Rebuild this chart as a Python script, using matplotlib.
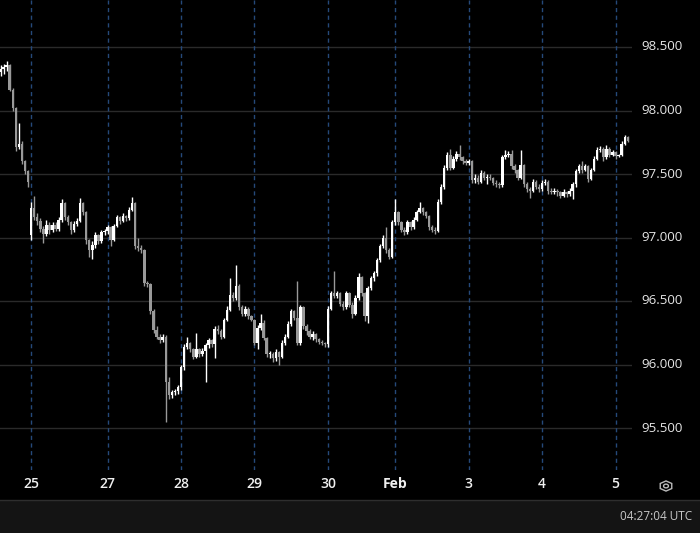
import matplotlib
matplotlib.use("Agg")
import matplotlib.pyplot as plt
from matplotlib.patches import Rectangle, RegularPolygon, Circle
from matplotlib.lines import Line2D

# hourly candles (closes / highs / lows), opens follow the previous close
closes = [
    98.33, 98.34, 98.36, 98.16, 98.02, 97.71, 97.74, 97.60, 97.52, 97.44,
    97.23, 97.16, 97.13, 97.07, 97.03, 97.10, 97.06, 97.10, 97.07, 97.14,
    97.27, 97.16, 97.12, 97.06, 97.11, 97.13, 97.27, 97.20, 96.98, 96.90,
    96.94, 97.02, 96.97, 97.04, 97.05, 97.08, 96.98, 97.09, 97.16, 97.13,
    97.17, 97.15, 97.22, 97.27, 96.93, 96.92, 96.90, 96.64, 96.63, 96.42,
    96.27, 96.22, 96.19, 96.22, 95.86, 95.76, 95.78, 95.79, 95.82, 95.98,
    96.14, 96.17, 96.12, 96.06, 96.12, 96.08, 96.11, 96.15, 96.19, 96.16,
    96.28, 96.26, 96.22, 96.35, 96.43, 96.55, 96.52, 96.62, 96.45, 96.40,
    96.44, 96.38, 96.35, 96.17, 96.29, 96.33, 96.21, 96.08, 96.08, 96.05,
    96.10, 96.06, 96.17, 96.22, 96.32, 96.42, 96.37, 96.17, 96.45, 96.30,
    96.26, 96.22, 96.24, 96.20, 96.18, 96.17, 96.16, 96.44, 96.56, 96.54,
    96.56, 96.48, 96.45, 96.56, 96.47, 96.40, 96.52, 96.69, 96.56, 96.38,
    96.60, 96.68, 96.72, 96.82, 96.93, 97.00, 96.90, 96.85, 97.12, 97.20,
    97.12, 97.06, 97.04, 97.12, 97.08, 97.14, 97.20, 97.23, 97.20, 97.17,
    97.08, 97.06, 97.05, 97.28, 97.40, 97.55, 97.65, 97.55, 97.62, 97.66,
    97.63, 97.60, 97.59, 97.60, 97.45, 97.47, 97.44, 97.51, 97.47, 97.48,
    97.47, 97.43, 97.42, 97.41, 97.63, 97.65, 97.66, 97.56, 97.53, 97.47,
    97.57, 97.42, 97.38, 97.37, 97.44, 97.40, 97.38, 97.43, 97.44, 97.37,
    97.36, 97.37, 97.36, 97.33, 97.36, 97.34, 97.37, 97.42, 97.52, 97.56,
    97.53, 97.56, 97.46, 97.53, 97.62, 97.69, 97.70, 97.63, 97.70, 97.65,
    97.67, 97.64, 97.65, 97.74, 97.79, 97.76,
]
highs = [
    98.36, 98.37, 98.39, 98.37, 98.18, 98.03, 97.90, 97.76, 97.61, 97.53,
    97.28, 97.33, 97.19, 97.15, 97.09, 97.14, 97.12, 97.12, 97.12, 97.16,
    97.30, 97.28, 97.18, 97.13, 97.13, 97.15, 97.31, 97.28, 97.21, 96.99,
    96.97, 97.04, 97.03, 97.06, 97.07, 97.10, 97.09, 97.11, 97.18, 97.17,
    97.19, 97.18, 97.24, 97.32, 97.28, 97.00, 96.94, 96.91, 96.66, 96.64,
    96.44, 96.30, 96.24, 96.24, 96.23, 95.90, 95.80, 95.81, 95.84, 96.00,
    96.16, 96.22, 96.18, 96.13, 96.25, 96.13, 96.13, 96.17, 96.21, 96.20,
    96.30, 96.31, 96.28, 96.37, 96.46, 96.68, 96.57, 96.78, 96.63, 96.47,
    96.46, 96.45, 96.39, 96.36, 96.31, 96.40, 96.35, 96.22, 96.11, 96.10,
    96.12, 96.11, 96.19, 96.24, 96.34, 96.44, 96.43, 96.66, 96.47, 96.46,
    96.32, 96.28, 96.26, 96.25, 96.21, 96.19, 96.18, 96.46, 96.58, 96.74,
    96.58, 96.57, 96.50, 96.58, 96.57, 96.49, 96.55, 96.72, 96.70, 96.57,
    96.62, 96.70, 96.74, 96.84, 96.95, 97.02, 97.08, 96.92, 97.14, 97.30,
    97.21, 97.13, 97.08, 97.14, 97.13, 97.16, 97.22, 97.28, 97.24, 97.21,
    97.18, 97.10, 97.08, 97.30, 97.42, 97.57, 97.67, 97.70, 97.64, 97.68,
    97.73, 97.64, 97.62, 97.62, 97.61, 97.50, 97.49, 97.53, 97.52, 97.50,
    97.50, 97.48, 97.45, 97.44, 97.65, 97.69, 97.68, 97.69, 97.58, 97.54,
    97.69, 97.58, 97.44, 97.40, 97.46, 97.45, 97.42, 97.45, 97.46, 97.45,
    97.39, 97.39, 97.38, 97.37, 97.38, 97.37, 97.39, 97.44, 97.54, 97.58,
    97.60, 97.58, 97.57, 97.55, 97.64, 97.71, 97.72, 97.71, 97.73, 97.71,
    97.69, 97.68, 97.66, 97.76, 97.81, 97.80,
]
lows = [
    98.27, 98.29, 98.31, 98.15, 98.00, 97.68, 97.70, 97.58, 97.50, 97.40,
    96.98, 97.14, 97.10, 97.04, 96.96, 97.01, 97.03, 97.04, 97.05, 97.05,
    97.12, 97.14, 97.10, 97.03, 97.04, 97.09, 97.12, 97.18, 96.95, 96.85,
    96.83, 96.92, 96.95, 96.96, 97.02, 97.03, 96.93, 96.97, 97.08, 97.11,
    97.12, 97.13, 97.14, 97.21, 96.91, 96.89, 96.88, 96.62, 96.61, 96.40,
    96.25, 96.20, 96.17, 96.18, 95.55, 95.73, 95.74, 95.76, 95.77, 95.80,
    95.96, 96.12, 96.10, 96.04, 96.05, 96.06, 96.07, 95.86, 96.13, 96.14,
    96.05, 96.24, 96.20, 96.21, 96.34, 96.42, 96.50, 96.51, 96.43, 96.38,
    96.38, 96.36, 96.34, 96.15, 96.12, 96.27, 96.19, 96.06, 96.05, 96.02,
    96.03, 96.00, 96.05, 96.15, 96.21, 96.30, 96.35, 96.15, 96.15, 96.28,
    96.23, 96.20, 96.19, 96.18, 96.16, 96.15, 96.14, 96.14, 96.43, 96.52,
    96.52, 96.46, 96.43, 96.44, 96.45, 96.37, 96.39, 96.51, 96.54, 96.34,
    96.33, 96.59, 96.66, 96.70, 96.81, 96.92, 96.88, 96.83, 96.84, 97.10,
    97.10, 97.04, 97.02, 97.03, 97.06, 97.07, 97.13, 97.19, 97.18, 97.15,
    97.06, 97.04, 97.03, 97.04, 97.26, 97.38, 97.53, 97.53, 97.54, 97.60,
    97.61, 97.58, 97.57, 97.57, 97.43, 97.43, 97.42, 97.43, 97.45, 97.42,
    97.45, 97.41, 97.40, 97.39, 97.40, 97.62, 97.63, 97.54, 97.51, 97.45,
    97.46, 97.40, 97.36, 97.31, 97.36, 97.38, 97.36, 97.37, 97.41, 97.34,
    97.34, 97.34, 97.33, 97.31, 97.32, 97.32, 97.33, 97.30, 97.40, 97.51,
    97.51, 97.52, 97.44, 97.45, 97.52, 97.61, 97.67, 97.60, 97.62, 97.63,
    97.64, 97.62, 97.63, 97.64, 97.73, 97.75,
]
first_open = 98.30
session_gaps = {10: 97.02}  # Sunday open

day_index = [10, 35, 59, 83, 107, 129, 153, 177, 201]
day_labels = ["25", "27", "28", "29", "30", "Feb", "3", "4", "5"]
price_ticks = [95.5, 96.0, 96.5, 97.0, 97.5, 98.0, 98.5]

opens = [first_open] + closes[:-1]
for k, v in session_gaps.items():
    opens[k] = v

BG = "#000000"
UP = "#ffffff"
DOWN = "#999999"

fig = plt.figure(figsize=(7, 5.33), dpi=100, facecolor=BG)
ax = fig.add_axes([0, 63 / 533, 632 / 700, 470 / 533])
ax.set_facecolor(BG)

for y in price_ticks:
    ax.axhline(y, color="#2a2a2a", lw=1, zorder=0)
for d in day_index:
    ax.axvline(d, color="#25497a", lw=1, ls=(0, (3, 2.5)), zorder=1)

xs = list(range(len(closes)))
cols = [UP if c >= o else DOWN for o, c in zip(opens, closes)]
ax.vlines(xs, lows, highs, colors=cols, lw=1, zorder=2)
bottoms = [min(o, c) for o, c in zip(opens, closes)]
heights = [max(abs(c - o), 0.008) for o, c in zip(opens, closes)]
ax.bar(xs, heights, bottom=bottoms, width=0.8, color=cols, linewidth=0, zorder=3)

ax.set_xlim(-0.5 / 3.06, 631.5 / 3.06)
ax.set_ylim(98.5 - 423 / 127, 98.5 + 47 / 127)

for s in ax.spines.values():
    s.set_visible(False)
ax.set_yticks([])
ax.set_xticks([])

to_x = lambda px: px / 700
to_y = lambda py: 1 - py / 533

for y in price_ticks:
    py = 47 + (98.5 - y) * 127
    fig.text(to_x(641), to_y(py), f"{y:.3f}", color="#e6e6e6", fontsize=9.5,
             family="Open Sans", ha="left", va="center")

for d, lab in zip(day_index, day_labels):
    px = 0.5 + d * 3.06
    fig.text(to_x(px), to_y(484), lab, color="#f0f0f0", fontsize=10,
             family="Open Sans", ha="center", va="center",
             weight="bold" if lab == "Feb" else "semibold")

# settings icon
fig.patches.append(RegularPolygon((to_x(666), to_y(486)), 6, radius=0.0095,
                                  orientation=0, transform=fig.transFigure,
                                  fill=False, ec="#bbbbbb", lw=1))
fig.patches.append(Circle((to_x(666), to_y(486)), 0.0035, transform=fig.transFigure,
                          fill=False, ec="#bbbbbb", lw=1))

# status strip
fig.patches.append(Rectangle((0, 0), 1, 33 / 533, transform=fig.transFigure,
                             fc="#141414", ec="none"))
fig.lines.append(Line2D([0, 1], [33 / 533, 33 / 533], transform=fig.transFigure,
                        color="#2e2e2e", lw=1))
fig.text(to_x(692), to_y(516), "04:27:04 UTC", color="#c8c8c8", fontsize=8.5,
         family="Open Sans", ha="right", va="center")

fig.savefig("out.png", dpi=100, facecolor=BG)
